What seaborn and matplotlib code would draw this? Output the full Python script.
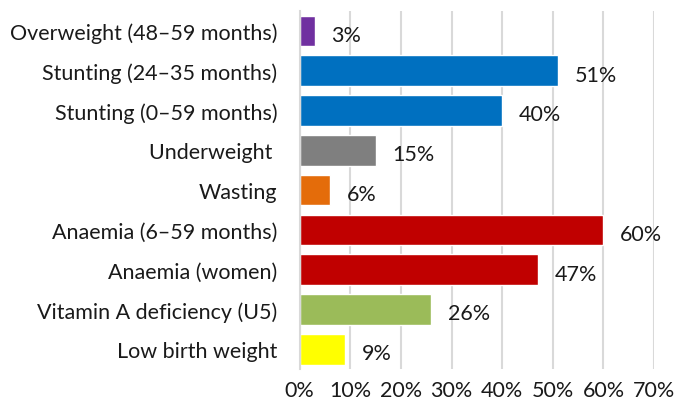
import matplotlib.pyplot as plt
import pandas as pd
import seaborn as sns
from matplotlib.ticker import FuncFormatter, MultipleLocator

categories = [
    "Overweight (48–59 months)",
    "Stunting (24–35 months)",
    "Stunting (0–59 months)",
    "Underweight ",
    "Wasting",
    "Anaemia (6–59 months)",
    "Anaemia (women)",
    "Vitamin A deficiency (U5)",
    "Low birth weight",
]
values = [3, 51, 40, 15, 6, 60, 47, 26, 9]
colors = ["#7030A0", "#0070C0", "#0070C0", "#7F7F7F", "#E46C0A",
          "#C00000", "#C00000", "#9BBB59", "#FFFF00"]

sns.set_style("white")
plt.rcParams["font.family"] = ["Lato", "DejaVu Sans"]

df = pd.DataFrame({"cat": categories, "val": values})

fig = plt.figure(figsize=(6.75, 4.14), dpi=100)
ax = fig.add_axes([0.444, 0.106, 0.525, 0.865])
sns.barplot(df, x="val", y="cat", hue="cat", palette=colors, legend=False,
            width=0.77, saturation=1, ax=ax, zorder=2)

ax.set_xlim(0, 70)
ax.xaxis.set_major_locator(MultipleLocator(10))
ax.xaxis.set_major_formatter(FuncFormatter(lambda v, _: f"{v:.0f}%"))
ax.grid(axis="x", color="#D9D9D9", lw=1.5, zorder=0)
ax.set_axisbelow(True)
for s in ["top", "right", "bottom"]:
    ax.spines[s].set_visible(False)
ax.spines["left"].set_color("#D9D9D9")
ax.spines["left"].set_linewidth(1.5)
ax.tick_params(axis="y", length=0, pad=16, labelsize=15.5, colors="#1a1a1a")
ax.tick_params(axis="x", length=0, pad=8, labelsize=15.5, colors="#1a1a1a")
ax.set_xlabel("")
ax.set_ylabel("")

for i, v in enumerate(values):
    ax.text(v + 3.3, i + 0.1, f"{v}%", va="center", ha="left",
            fontsize=15.5, color="#1a1a1a")

fig.savefig("out.png", dpi=100)
